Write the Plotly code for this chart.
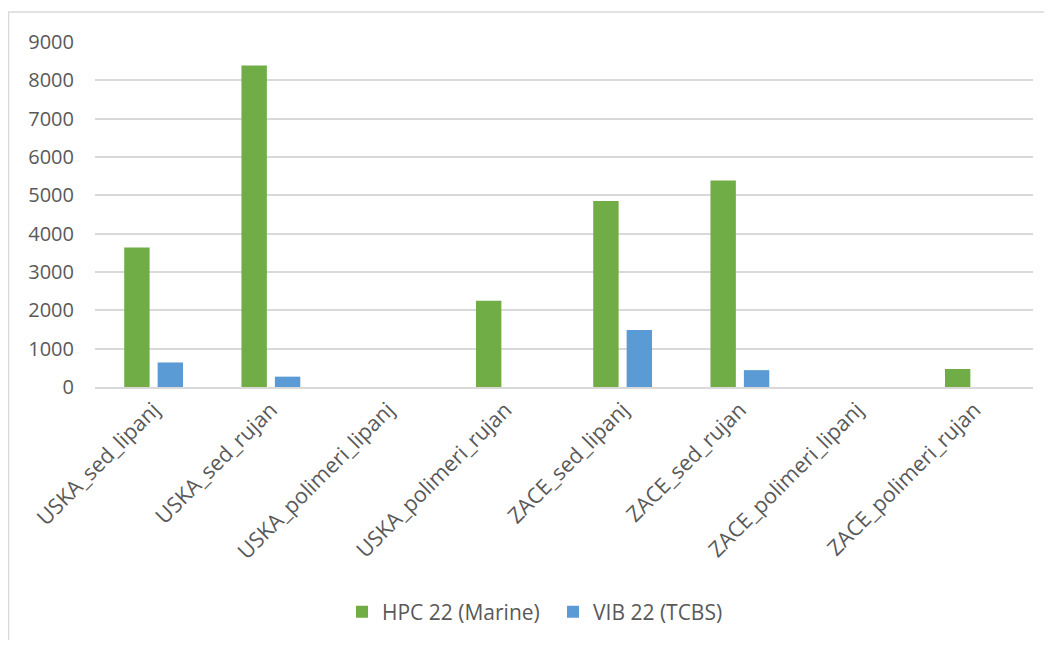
import plotly.graph_objects as go

categories = ["USKA_sed_lipanj", "USKA_sed_rujan", "USKA_polimeri_lipanj", "USKA_polimeri_rujan",
              "ZACE_sed_lipanj", "ZACE_sed_rujan", "ZACE_polimeri_lipanj", "ZACE_polimeri_rujan"]
hpc_values = [3640, 8390, 0, 2250, 4850, 5390, 0, 470]
vib_values = [640, 270, 0, 0, 1490, 440, 0, 0]
series_names = ["HPC 22 (Marine)", "VIB 22 (TCBS)"]
y_ticks = [0, 1000, 2000, 3000, 4000, 5000, 6000, 7000, 8000, 9000]

# page has an 8px body margin; figure is placed at (8, 8)
OFF = 8
W, H = 1052 - 2 * OFF, 648 - 2 * OFF
# plot area in page pixels: x 95..1033, y 42..387
L = 95 - OFF
T = 42 - OFF
R = W - (1033 - OFF)
B = H - (387 - OFF)
pw, ph = W - L - R, H - T - B

def px_x(x):
    return (x - OFF - L) / pw

def px_y(y):
    return (H - B - (y - OFF)) / ph

fig = go.Figure()
fig.add_trace(go.Bar(x=categories, y=hpc_values, name=series_names[0],
                     marker=dict(color="#70AD47", line=dict(width=0))))
fig.add_trace(go.Bar(x=categories, y=vib_values, name=series_names[1],
                     marker=dict(color="#5B9BD5", line=dict(width=0))))

font_family = "Open Sans, Noto Sans, sans-serif"
fig.update_layout(
    width=W, height=H,
    margin=dict(l=L, r=R, t=T, b=B, autoexpand=False),
    paper_bgcolor="white", plot_bgcolor="white",
    barmode="group", bargap=0.43, bargroupgap=0.24,
    font=dict(family=font_family, color="#595959", size=20),
    showlegend=True,
    legend=dict(orientation="h", x=px_x(342), xanchor="left", y=px_y(612), yanchor="middle",
                font=dict(size=21, color="#595959"), itemwidth=30, traceorder="normal",
                entrywidth=166, entrywidthmode="pixels"),
    xaxis=dict(tickangle=-45, showgrid=False, showline=True, linecolor="#D9D9D9", linewidth=1.5,
               ticks="", tickfont=dict(size=21.5, color="#595959"), fixedrange=True),
    yaxis=dict(range=[0, 9000], tickvals=y_ticks, showgrid=True, gridcolor="#D9D9D9", gridwidth=1.5,
               zeroline=False, showline=False, ticks="", ticklabelstandoff=20,
               tickfont=dict(size=20, color="#595959"), fixedrange=True),
    shapes=[
        dict(type="line", xref="paper", yref="paper", x0=px_x(8.5), x1=px_x(8.5), y0=px_y(12), y1=px_y(648),
             line=dict(color="#D9D9D9", width=1.5)),
        dict(type="line", xref="paper", yref="paper", x0=px_x(8), x1=px_x(1052), y0=px_y(12), y1=px_y(12),
             line=dict(color="#D9D9D9", width=1.5)),
    ],
)

fig.write_html("out.html")
